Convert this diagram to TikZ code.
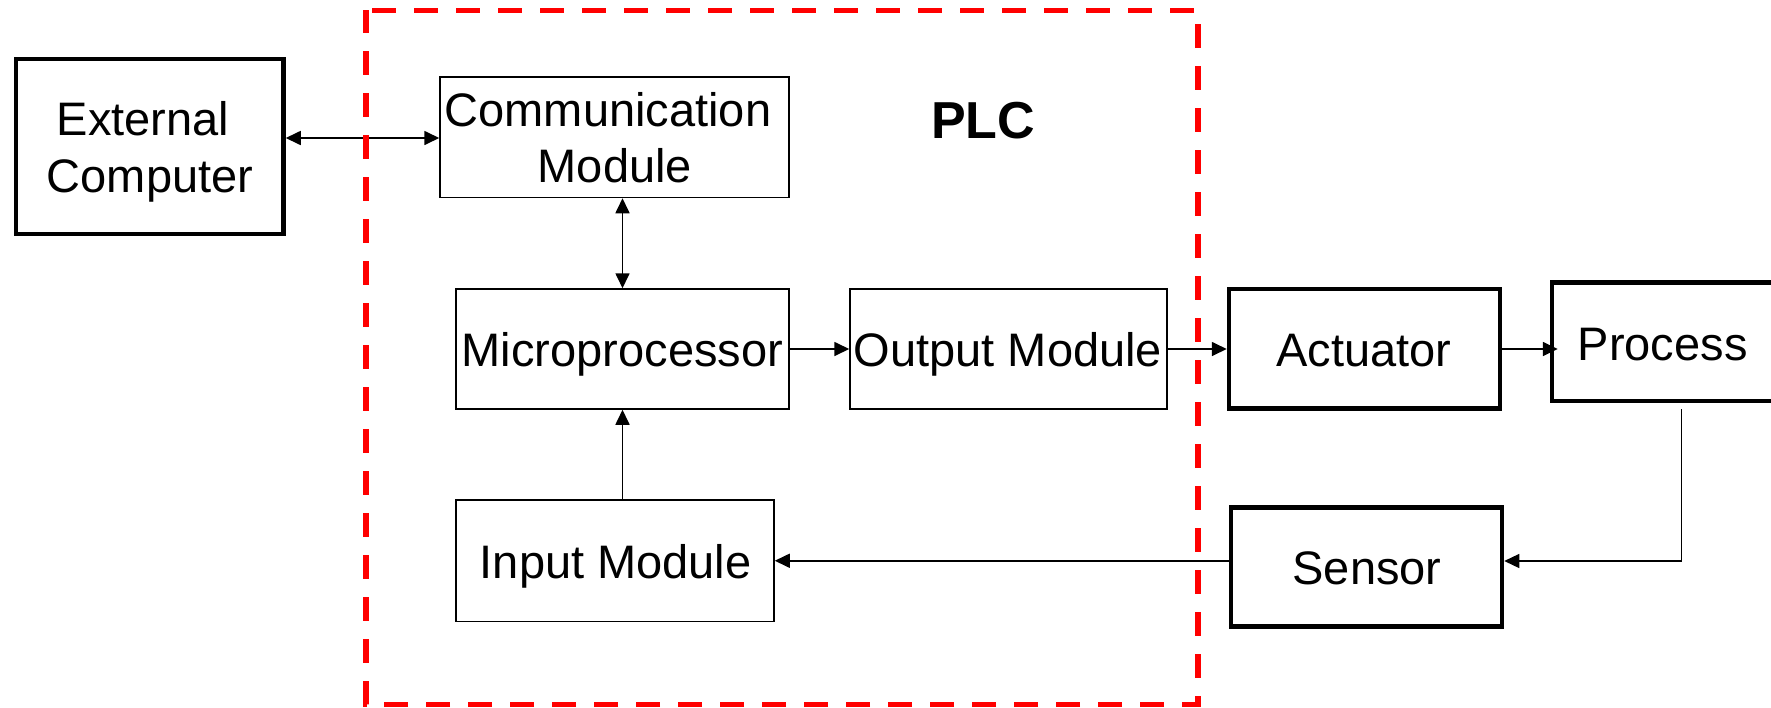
\documentclass[tikz,border=0pt]{standalone}
\usepackage{fontspec}
\setmainfont{Liberation Sans}
\usetikzlibrary{arrows.meta}
\begin{document}
\begin{tikzpicture}[x=1pt,y=-1pt,
  thinbox/.style={draw, line width=1.5pt, inner sep=0pt},
  thickbox/.style={draw, line width=4.5pt, inner sep=0pt},
  txt/.style={inner sep=0pt, anchor=base, font=\fontsize{47}{56}\selectfont},
  arr/.style={line width=1.7pt, -{Triangle[length=15pt,width=14pt]}},
  biarr/.style={line width=1.7pt, {Triangle[length=15pt,width=14pt]}-{Triangle[length=15pt,width=14pt]}},
  plcbox/.style={draw=red, line width=5.5pt, dash pattern=on 24pt off 18pt, dash phase=36pt}]
\useasboundingbox (0,0) rectangle (1771,707);

% boxes
\node[thickbox, minimum width=267.5pt, minimum height=175pt] (ext) at (149.75,146.5) {};
\node[thinbox, minimum width=349pt, minimum height=120.5pt] (comm) at (614.5,137.25) {};
\node[thinbox, minimum width=333pt, minimum height=120pt] (micro) at (622.5,349) {};
\node[thinbox, minimum width=317pt, minimum height=120pt] (out) at (1008.5,349) {};
\node[thickbox, minimum width=271pt, minimum height=119.5pt] (act) at (1364.5,348.75) {};
\node[thickbox, minimum width=224pt, minimum height=118.5pt] (proc) at (1664,341.75) {};
\node[thinbox, minimum width=318pt, minimum height=121.5pt] (inp) at (615,560.75) {};
\node[thickbox, minimum width=271pt, minimum height=119pt] (sens) at (1366.5,567) {};

% texts
\node[txt] (extA) at (143,135) {External};
\node[txt] (extB) at (150,192) {Computer};
\node[txt] (commA) at (608,126) {Communication};
\node[txt] (commB) at (614.8,182.7) {Module};
\node[txt] (microT) at (622.4,366.5) {Microprocessor};
\node[txt] (outT) at (1008,366.7) {Output Module};
\node[txt] (actT) at (1364,366.7) {Actuator};
\node[txt] (procT) at (1662.7,360) {Process};
\node[txt] (inpT) at (615.7,578.3) {Input Module};
\node[txt] (sensT) at (1367,584.5) {Sensor};
\node[inner sep=0pt, anchor=base, font=\fontsize{52}{60}\selectfont\bfseries] (plc) at (983,138) {PLC};

% connectors
\draw[biarr] (ext.east |- 0,138) -- (comm.west |- 0,138);
\draw[biarr] (micro.north |- comm.south) -- (micro.north);
\draw[arr] (micro.east) -- (out.west);
\draw[arr] (out.east) -- (act.west |- out.east);
\draw[arr, shorten >=-8pt] (act.east |- 0,349) -- (proc.west |- 0,349);
\draw[arr, line width=1.3pt] ([shift={(17.5,6)}]proc.south) |- ([yshift=6pt]sens.east);
\draw[arr] (sens.west |- inp.east) -- (inp.east);
\draw[arr] (inp.north -| micro.south) -- (micro.south);

% PLC boundary
\draw[plcbox] (366,10.3) -- (1198,10.3) -- (1198,704.5) -- (366,704.5) -- cycle;
\end{tikzpicture}
\end{document}
